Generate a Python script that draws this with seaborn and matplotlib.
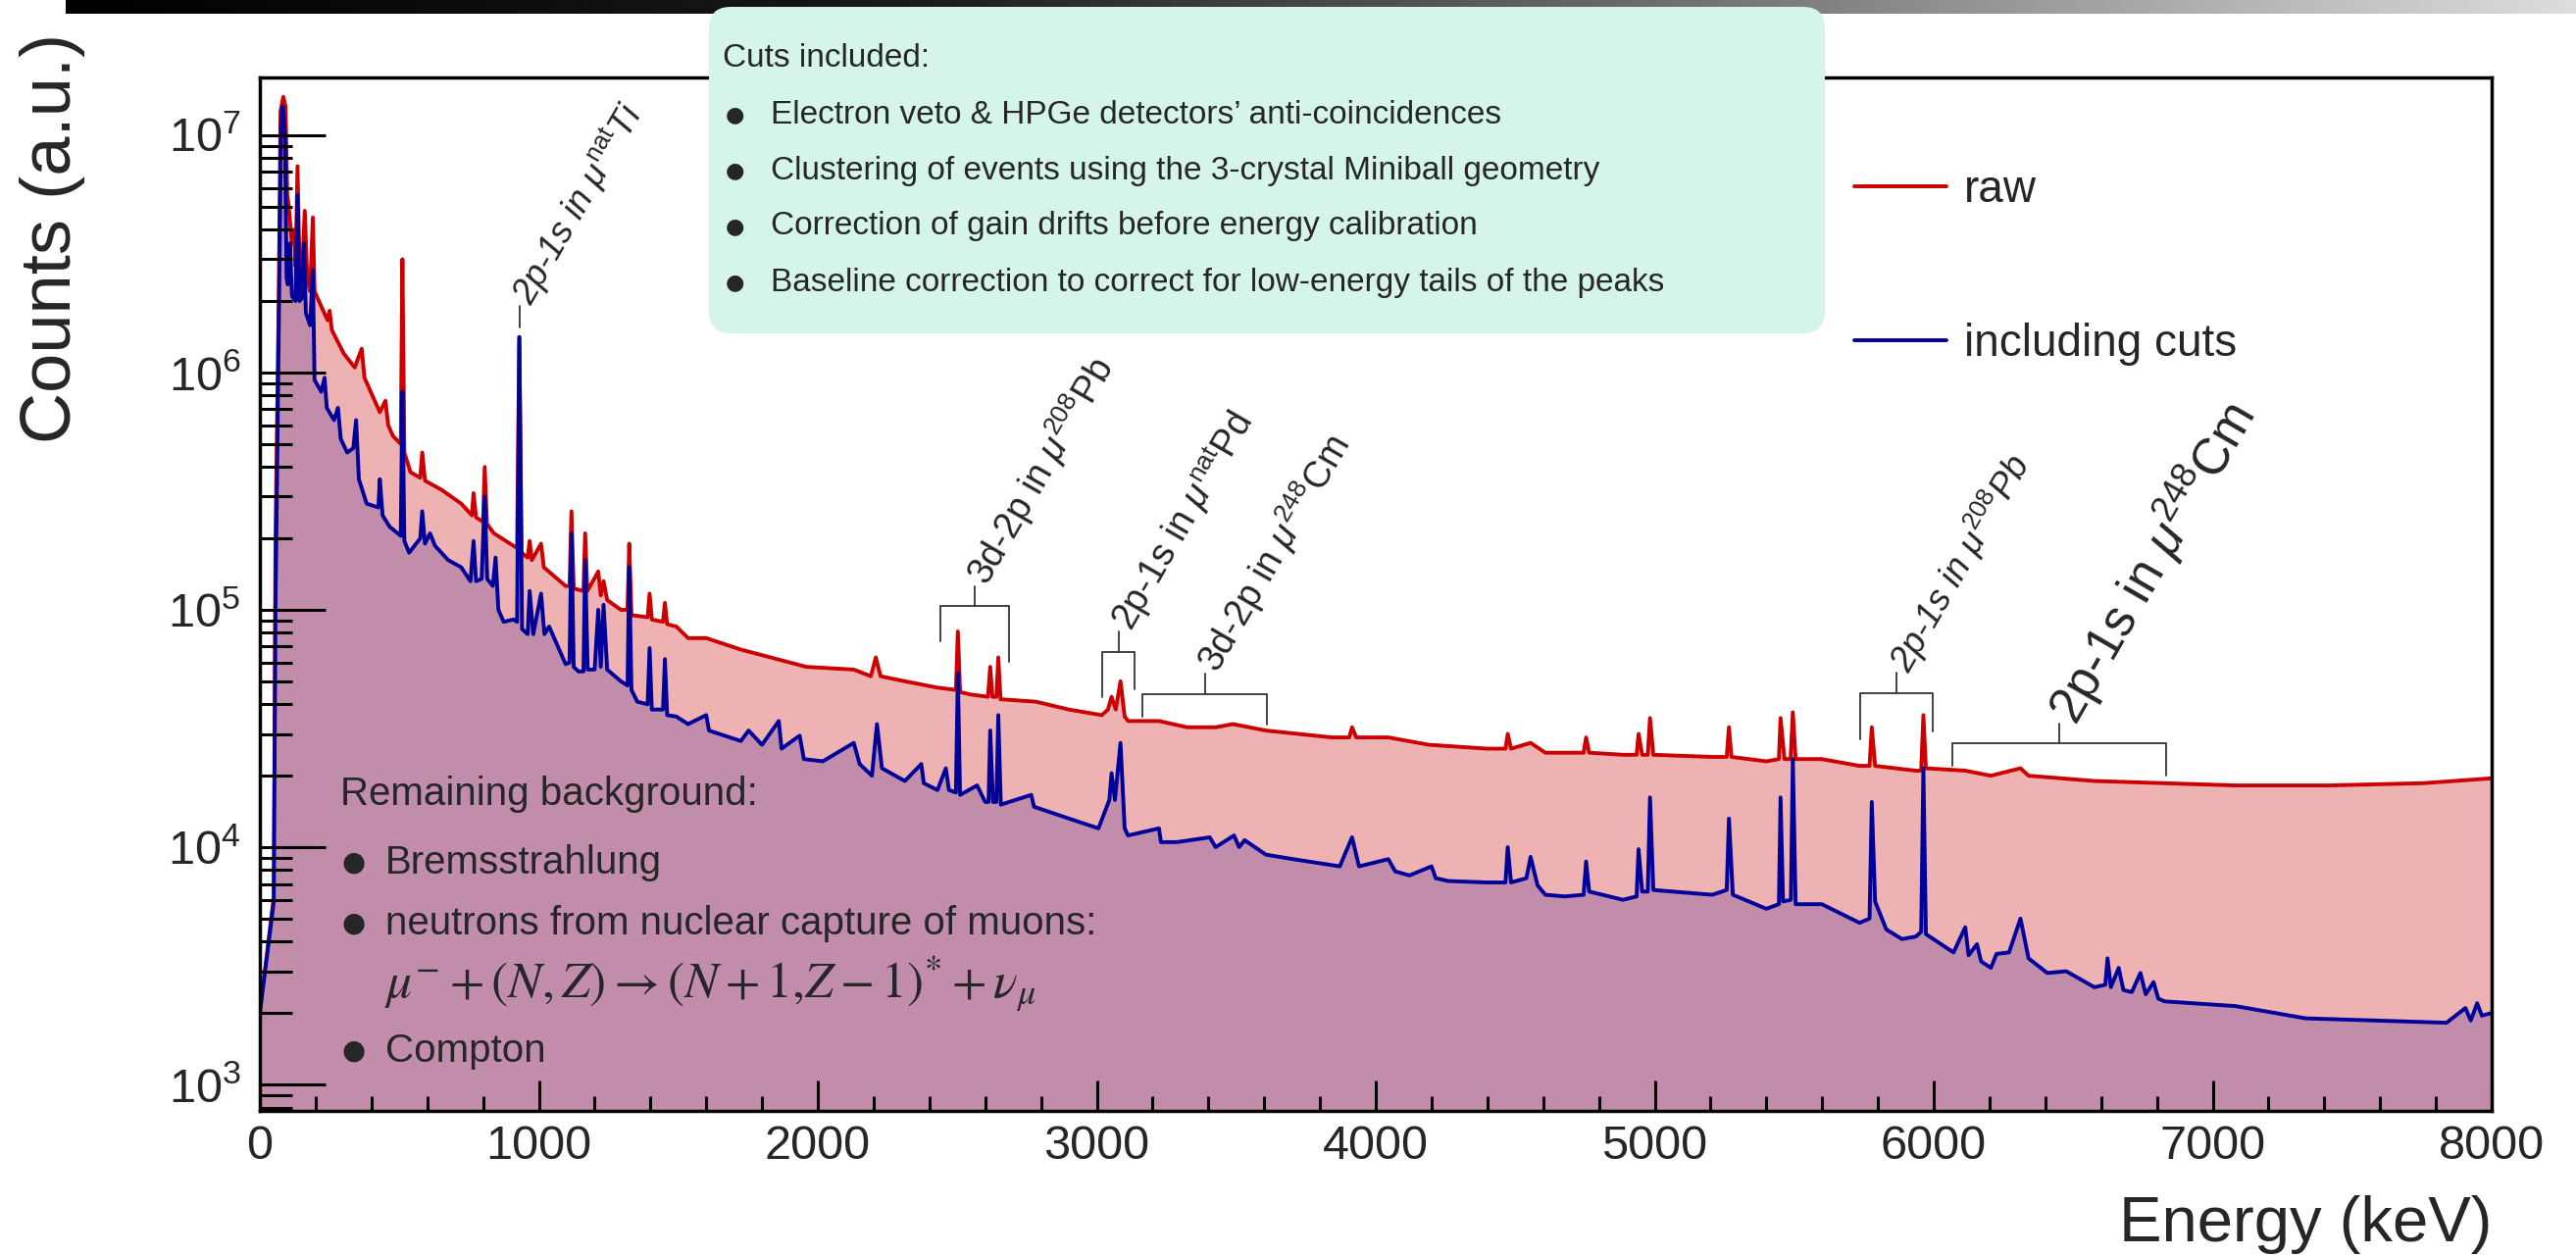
import numpy as np
import pandas as pd
import matplotlib
matplotlib.use("Agg")
import matplotlib.pyplot as plt
import seaborn as sns
from matplotlib.patches import FancyBboxPatch
from matplotlib.colors import LinearSegmentedColormap
from matplotlib.ticker import LogLocator, MultipleLocator, NullFormatter

# spectrum (energy in keV, counts)
energy_raw = [0, 50, 56, 68, 74, 84, 92, 98, 103, 115, 123, 128, 135, 142, 150, 161, 170, 180, 190, 196,
              220, 243, 250, 258, 301, 340, 365, 375, 430, 450, 460, 477, 505, 511, 518, 540, 575, 582, 592,
              652, 722, 760, 766, 775, 800, 806, 814, 839, 909, 922, 930, 938, 960, 967, 975, 1008, 1018,
              1096, 1110, 1117, 1125, 1160, 1166, 1174, 1213, 1222, 1232, 1245, 1294, 1318, 1324, 1332,
              1390, 1397, 1405, 1445, 1452, 1460, 1493, 1535, 1600, 1724, 1853, 1959, 2129, 2190, 2208,
              2225, 2312, 2429, 2495, 2502, 2510, 2547, 2610, 2618, 2626, 2640, 2647, 2655, 2782, 2900,
              3018, 3040, 3053, 3068, 3085, 3100, 3112, 3223, 3324, 3426, 3488, 3606, 3843, 3905, 3915,
              3930, 4045, 4190, 4399, 4465, 4473, 4485, 4555, 4608, 4745, 4754, 4765, 4886, 4935, 4942,
              4955, 4975, 4983, 4995, 5206, 5258, 5266, 5275, 5400, 5445, 5451, 5465, 5487, 5495, 5505,
              5599, 5734, 5770, 5778, 5790, 5936, 5955, 5963, 5972, 6113, 6205, 6311, 6340, 6576, 6828,
              7081, 7418, 7754, 8000]
counts_raw = [2.0e3, 6.2e3, 2.0e5, 2.2e6, 1.26e7, 1.45e7, 1.32e7, 5.6e6, 5.1e6, 3.5e6, 4.0e6, 2.8e6, 7.4e6,
              2.8e6, 2.5e6, 4.8e6, 2.5e6, 2.2e6, 4.5e6, 2.2e6,
              1.9e6, 1.66e6, 1.82e6, 1.51e6, 1.2e6, 1.05e6, 1.26e6, 9.5e5, 6.8e5, 7.6e5, 6.0e5, 5.4e5,
              5.0e5, 3.0e6, 4.6e5, 3.8e5, 3.6e5, 4.6e5, 3.5e5,
              3.2e5, 2.8e5, 2.5e5, 3.1e5, 2.45e5, 2.35e5, 4.0e5, 2.3e5, 2.1e5, 1.86e5, 1.82e5, 1.41e6,
              1.74e5, 1.66e5, 1.95e5, 1.62e5, 1.9e5, 1.51e5,
              1.26e5, 1.26e5, 2.6e5, 1.23e5, 1.2e5, 2.1e5, 1.2e5, 1.45e5, 1.15e5, 1.32e5, 1.1e5, 1.0e5,
              1.0e5, 1.9e5, 9.5e4,
              9.3e4, 1.17e5, 9.1e4, 8.9e4, 1.07e5, 8.7e4, 8.5e4, 7.6e4, 7.6e4, 6.8e4, 6.2e4, 5.75e4,
              5.6e4, 5.25e4, 6.3e4,
              5.25e4, 5.0e4, 4.7e4, 4.6e4, 8.1e4, 4.5e4, 4.4e4, 4.3e4, 5.75e4, 4.3e4, 4.3e4, 6.3e4,
              4.2e4, 4.1e4, 3.8e4,
              3.6e4, 3.8e4, 4.3e4, 3.8e4, 5.0e4, 3.55e4, 3.4e4, 3.4e4, 3.2e4, 3.2e4, 3.3e4, 3.1e4,
              2.9e4, 2.9e4, 3.2e4,
              2.9e4, 2.9e4, 2.7e4, 2.6e4, 2.6e4, 3.0e4, 2.6e4, 2.75e4, 2.5e4, 2.5e4, 2.9e4, 2.5e4,
              2.45e4, 2.45e4, 3.0e4,
              2.45e4, 2.45e4, 3.5e4, 2.45e4, 2.4e4, 2.4e4, 3.2e4, 2.4e4, 2.3e4, 2.35e4, 3.5e4, 2.35e4,
              2.35e4, 3.7e4, 2.35e4,
              2.35e4, 2.2e4, 2.2e4, 3.2e4, 2.2e4, 2.1e4, 2.1e4, 3.6e4, 2.15e4, 2.1e4, 2.0e4, 2.15e4,
              2.0e4, 1.9e4, 1.86e4,
              1.82e4, 1.82e4, 1.86e4, 1.95e4]

energy_cut = [0, 50, 56, 68, 76, 82, 90, 96, 100, 108, 115, 128, 135, 142, 150, 158, 165, 180, 190, 196,
              220, 232, 240, 266, 280, 290, 313, 335, 345, 355, 383, 425, 430, 440, 465, 505, 511, 518,
              535, 575, 582, 592, 610, 628, 675, 722, 755, 766, 775, 795, 806, 815, 835, 845, 855, 874,
              909, 922, 930, 940, 960, 967, 980, 1008, 1020, 1037, 1096, 1110, 1117, 1125, 1142, 1160,
              1166, 1175, 1200, 1213, 1222, 1232, 1245, 1294, 1318, 1324, 1332, 1353, 1390, 1397, 1405,
              1445, 1452, 1460, 1493, 1535, 1600, 1610, 1724, 1752, 1800, 1860, 1870, 1935, 1950, 2018,
              2129, 2150, 2194, 2212, 2230, 2312, 2371, 2380, 2429, 2459, 2470, 2495, 2502, 2510, 2571,
              2600, 2612, 2618, 2628, 2640, 2647, 2656, 2765, 2775, 2900, 3006, 3045, 3053, 3065, 3085,
              3100, 3112, 3223, 3230, 3287, 3405, 3426, 3492, 3510, 3530, 3606, 3704, 3871, 3915, 3940,
              4045, 4070, 4121, 4200, 4215, 4260, 4399, 4465, 4473, 4485, 4540, 4555, 4580, 4608, 4677,
              4745, 4754, 4765, 4886, 4935, 4942, 4955, 4975, 4983, 4995, 5206, 5258, 5266, 5280, 5400,
              5445, 5451, 5460, 5488, 5495, 5505, 5599, 5734, 5770, 5778, 5790, 5830, 5886, 5936, 5955,
              5963, 5972, 6071, 6113, 6125, 6155, 6170, 6205, 6225, 6270, 6311, 6340, 6407, 6475, 6576,
              6615, 6623, 6635, 6663, 6680, 6710, 6741, 6760, 6788, 6805, 6828, 7081, 7333, 7586, 7838,
              7906, 7925, 7948, 7965, 8000]
counts_cut = [2.0e3, 5.9e3, 1.0e5, 1.6e6, 1.12e7, 1.32e7, 1.0e7, 2.5e6, 2.35e6, 3.5e6, 2.1e6, 2.0e6,
              5.6e6, 2.0e6, 2.05e6, 3.5e6, 1.78e6, 1.58e6, 2.7e6, 9.3e5,
              8.3e5, 9.5e5, 7.1e5, 6.3e5, 7.1e5, 5.25e5, 4.6e5, 4.8e5, 6.3e5, 3.55e5, 2.8e5, 2.7e5,
              3.55e5, 2.5e5, 2.24e5, 2.05e5, 8.3e5, 1.95e5,
              1.74e5, 2.0e5, 2.6e5, 1.9e5, 2.1e5, 1.86e5, 1.62e5, 1.51e5, 1.32e5, 1.95e5, 1.32e5,
              1.35e5, 3.0e5, 1.35e5, 1.26e5, 1.66e5, 1.0e5, 8.9e4,
              9.1e4, 8.9e4, 1.41e6, 8.3e4, 7.9e4, 1.2e5, 7.9e4, 1.17e5, 7.9e4, 8.5e4, 5.9e4, 6.0e4,
              2.1e5, 5.75e4, 5.5e4, 5.5e4,
              1.62e5, 5.6e4, 5.6e4, 1.0e5, 5.75e4, 1.05e5, 5.6e4, 5.0e4, 4.8e4, 1.51e5, 4.6e4, 4.1e4,
              4.0e4, 6.9e4, 3.8e4,
              3.8e4, 6.2e4, 3.6e4, 3.55e4, 3.3e4, 3.6e4, 3.1e4, 2.8e4, 3.1e4, 2.7e4, 3.4e4, 2.6e4,
              2.95e4, 2.35e4, 2.3e4,
              2.75e4, 2.24e4, 2.0e4, 3.3e4, 2.15e4, 1.9e4, 2.24e4, 1.86e4, 1.74e4, 2.15e4, 1.74e4,
              1.7e4, 5.4e4, 1.66e4, 1.82e4,
              1.55e4, 1.55e4, 3.1e4, 1.55e4, 1.55e4, 3.6e4, 1.51e4, 1.66e4, 1.48e4, 1.32e4, 1.2e4,
              1.58e4, 2.05e4, 1.58e4, 2.75e4,
              1.2e4, 1.12e4, 1.2e4, 1.05e4, 1.05e4, 1.1e4, 1.0e4, 1.12e4, 1.0e4, 1.07e4, 9.3e3, 8.9e3,
              8.3e3, 1.1e4, 8.3e3,
              8.9e3, 7.9e3, 7.6e3, 8.3e3, 7.4e3, 7.2e3, 7.1e3, 7.1e3, 1.0e4, 7.1e3, 7.4e3, 9.1e3,
              6.9e3, 6.3e3, 6.2e3,
              6.3e3, 8.7e3, 6.5e3, 6.0e3, 6.2e3, 9.8e3, 6.5e3, 6.5e3, 1.62e4, 6.6e3, 6.3e3, 6.6e3,
              1.32e4, 6.3e3, 5.5e3,
              5.75e3, 1.62e4, 5.9e3, 6.0e3, 2.35e4, 5.75e3, 5.75e3, 4.8e3, 5.0e3, 1.55e4, 5.9e3, 4.5e3,
              4.1e3, 4.2e3, 4.4e3,
              2.15e4, 4.3e3, 3.6e3, 4.6e3, 3.5e3, 3.9e3, 3.3e3, 3.1e3, 3.55e3, 3.6e3, 5.0e3, 3.4e3,
              2.95e3, 3.0e3, 2.57e3,
              2.63e3, 3.4e3, 2.57e3, 3.1e3, 2.5e3, 2.45e3, 2.95e3, 2.4e3, 2.7e3, 2.3e3, 2.24e3, 2.14e3,
              1.9e3, 1.86e3, 1.82e3,
              2.1e3, 1.86e3, 2.2e3, 1.95e3, 2.0e3]

# peak group brackets: left leg, right leg, bracket top, feet, stem
br_left = [2439, 3020, 3165, 5737, 6066]
br_right = [2685, 3135, 3609, 5995, 6832]
br_top = [1.04e5, 6.67e4, 4.39e4, 4.46e4, 2.75e4]
br_left_foot = [7.4e4, 4.3e4, 3.56e4, 2.86e4, 2.21e4]
br_right_foot = [6.05e4, 4.62e4, 3.27e4, 3.07e4, 2.01e4]
br_stem_x = [2561, 3079, 3387, 5865, 6451]
br_stem_top = [1.26e5, 8.13e4, 5.4e4, 5.42e4, 3.31e4]
br_labels = [r"3d-2p in $\mu^{\mathrm{208}}$Pb", r"2p-1s in $\mu^{\mathrm{nat}}$Pd",
             r"3d-2p in $\mu^{\mathrm{248}}$Cm", r"2p-1s in $\mu^{\mathrm{208}}$Pb",
             r"2p-1s in $\mu^{\mathrm{248}}$Cm"]
br_sizes = [27, 27, 27, 26, 37]
br_styles = ["normal", "normal", "normal", "italic", "normal"]

cuts_lines = ["Electron veto & HPGe detectors\u2019 anti-coincidences",
              "Clustering of events using the 3-crystal Miniball geometry",
              "Correction of gain drifts before energy calibration",
              "Baseline correction to correct for low-energy tails of the peaks"]

RED = "#cc0000"
BLUE = "#00009a"
PINK = "#eeb2b2"
MAUVE = "#c18dab"

W, H = 2627, 1281


def fx(px):
    return px / W


def fy(py):
    return 1 - py / H


sns.set_style("white")
plt.rcParams["font.family"] = ["Liberation Sans", "DejaVu Sans"]
plt.rcParams["mathtext.fontset"] = "custom"
plt.rcParams["mathtext.rm"] = "Liberation Sans"
plt.rcParams["mathtext.it"] = "Liberation Sans:italic"
plt.rcParams["mathtext.bf"] = "Liberation Sans:bold"

fig = plt.figure(figsize=(W / 100, H / 100), dpi=100)
ax = fig.add_axes([fx(265), fy(1133), fx(2541) - fx(265), fy(79) - fy(1133)])

raw = pd.DataFrame({"energy": energy_raw, "counts": counts_raw})
cut = pd.DataFrame({"energy": energy_cut, "counts": counts_cut})

ax.fill_between(raw["energy"], raw["counts"], 1, color=PINK, lw=0, zorder=1.0)
sns.lineplot(data=raw, x="energy", y="counts", ax=ax, color=RED, lw=2.8,
             estimator=None, sort=False, label="raw", zorder=1.1)
ax.fill_between(cut["energy"], cut["counts"], 1, color=MAUVE, lw=0, zorder=1.2)
sns.lineplot(data=cut, x="energy", y="counts", ax=ax, color=BLUE, lw=2.8,
             estimator=None, sort=False, label="including cuts", zorder=1.3)

ax.set_yscale("log")
ax.set_xlim(0, 8000)
ax.set_ylim(774, 1.75e7)
ax.set_xlabel("")
ax.set_ylabel("")
ax.set_axisbelow(False)  # ticks drawn over the filled spectra

# ROOT-like inward ticks
ax.xaxis.set_major_locator(MultipleLocator(1000))
ax.xaxis.set_minor_locator(MultipleLocator(200))
ax.yaxis.set_major_locator(LogLocator(base=10, numticks=20))
ax.yaxis.set_minor_locator(LogLocator(base=10, subs=np.arange(2, 10), numticks=100))
ax.yaxis.set_minor_formatter(NullFormatter())
ax.tick_params(which="both", left=True, bottom=True, top=False, right=False, direction="in",
               color="black", width=2.2)
ax.tick_params(axis="y", which="major", length=48, labelsize=35, pad=14)
ax.tick_params(axis="y", which="minor", length=24)
ax.tick_params(axis="x", which="major", length=22, labelsize=35, pad=10)
ax.tick_params(axis="x", which="minor", length=11)
for s in ax.spines.values():
    s.set_linewidth(2.5)
    s.set_color("black")

# brackets over peak groups
for i in range(len(br_left)):
    ax.plot([br_left[i], br_left[i], br_right[i], br_right[i]],
            [br_left_foot[i], br_top[i], br_top[i], br_right_foot[i]],
            color="#333333", lw=1.3, zorder=1.5)
    ax.plot([br_stem_x[i], br_stem_x[i]], [br_top[i], br_stem_top[i]],
            color="#333333", lw=1.3, zorder=1.5)
    ax.annotate(br_labels[i], xy=(br_stem_x[i], br_stem_top[i]), xytext=(2, 3.5),
                textcoords="offset points", rotation=60, rotation_mode="anchor",
                ha="left", va="center", fontsize=br_sizes[i], style=br_styles[i], zorder=3)

# Ti line marker
ax.plot([930, 930], [1.55e6, 1.9e6], color="#333333", lw=1.3, zorder=1.5)
ax.annotate(r"2p-1s in $\mu^{\mathrm{nat}}$Ti", xy=(930, 1.9e6), xytext=(2, 3.5),
            textcoords="offset points", rotation=60, rotation_mode="anchor",
            ha="left", va="center", fontsize=26, style="italic", zorder=3)

h, l = ax.get_legend_handles_labels()
ax.legend(h, l, loc="upper left", bbox_to_anchor=(fx(1891), fy(172)), bbox_transform=fig.transFigure,
          frameon=False, fontsize=33, handlelength=2.05, handletextpad=0.4, labelspacing=2.46,
          borderpad=0, borderaxespad=0)

# remaining background notes
fig.text(fx(347), fy(810), "Remaining background:", fontsize=29, va="center", ha="left")
for py, txt in [(880, "Bremsstrahlung"), (942, "neutrons from nuclear capture of muons:"), (1072, "Compton")]:
    fig.text(fx(349), fy(py), "\u25cf", fontsize=20, family="DejaVu Sans", va="center", ha="left")
    fig.text(fx(393), fy(py), txt, fontsize=29, va="center", ha="left")
fig.text(fx(392), fy(1003), r"$\mu^{-} + (N,Z) \rightarrow (N+1{,}Z-1)^{*} + \nu_{\mu}$",
         fontsize=37, va="center", ha="left", math_fontfamily="stix")

# cuts box
box = FancyBboxPatch((7.23, (H - 340) / 100), 11.38, 3.33, boxstyle="round,pad=0,rounding_size=0.22",
                     transform=fig.dpi_scale_trans, fc="#d5f5e9", ec="none", zorder=5)
fig.add_artist(box)
fig.text(fx(737), fy(60), "Cuts included:", fontsize=24, va="center", ha="left", zorder=6)
for j, txt in enumerate(cuts_lines):
    py = 117 + j * 57
    fig.text(fx(740), fy(py), "\u25cf", fontsize=16, family="DejaVu Sans", va="center", ha="left", zorder=6)
    fig.text(fx(786), fy(py), txt, fontsize=24, va="center", ha="left", zorder=6)

# axis titles
fig.text(fx(54), fy(34), "Counts (a.u.)", fontsize=52, rotation=90, ha="center", va="top")
fig.text(fx(2541), fy(1266), "Energy (keV)", fontsize=47, ha="right", va="baseline")

# slide header bar
bar = fig.add_axes([fx(67), fy(14), 1 - fx(67), 14 / H])
bar.imshow(np.linspace(0, 1, 512)[None, :], aspect="auto",
           cmap=LinearSegmentedColormap.from_list("bar", ["#000000", "#1a1a1a", "#777777", "#dddddd"]))
bar.axis("off")

fig.savefig("out.png", dpi=100)
